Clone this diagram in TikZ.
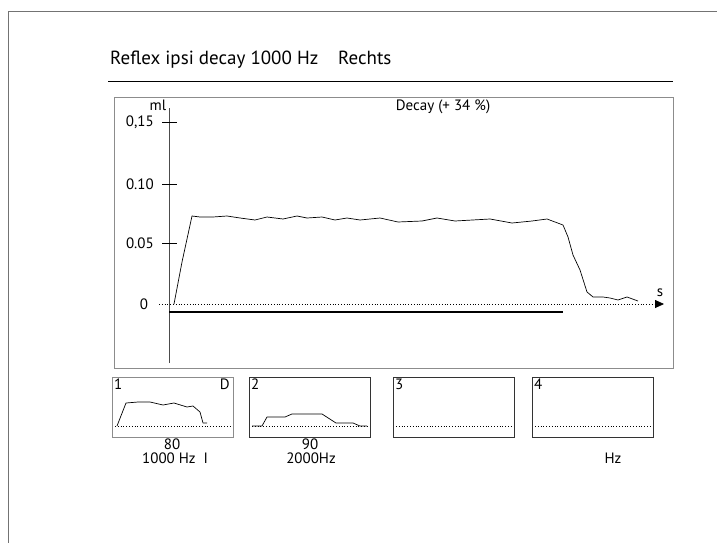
\documentclass[tikz,border=0pt]{standalone}
\usepackage{fontspec}
\setmainfont{PT Sans}
\usetikzlibrary{arrows.meta}
\usetikzlibrary{positioning}
\tikzset {
  % lines of the sheet and the boxes
  page line/.style = {
    draw = black!55,
    line width = 1pt
  },
  plot box/.style = {
    draw = black!45,
    line width = 1pt
  },
  rule line/.style = {
    draw = black,
    line width = 1pt
  },
  axis line/.style = {
    draw = black!70,
    line width = 1pt
  },
  % measured curves
  trace/.style = {
    draw = black,
    line width = .7pt,
    line join = round
  },
  zero line/.style = {
    draw = black,
    line width = .8pt,
    dotted
  },
  stim bar/.style = {
    draw = black,
    line width = 2.3pt
  }
}
\tikzset {
  title text/.style = {
    font = \fontsize{19}{19}\selectfont,
    inner sep = 0,
    anchor = base west
  },
  tick text/.style = {
    font = \fontsize{15}{15}\selectfont,
    inner sep = 0
  },
  small text/.style = {
    font = \fontsize{15}{15}\selectfont,
    inner sep = 0
  }
}
\begin{document}
\begin{tikzpicture}[x=1pt, y=-1pt]
    \useasboundingbox (0,0) rectangle (717,543);
    \draw[page line] (8,543) -- (8,12) -- (717,12);

    \node[title text] (title) at (110,65) {Reflex ipsi decay 1000 Hz};
    \node[title text] (side) at (338,65) {Rechts};
    \coordinate (rule-w) at (108,81);
    \coordinate (rule-e) at (673,81);
    \draw[rule line] (rule-w) -- (rule-e);

    % main decay plot
    \draw[plot box] (114,97) rectangle (673,368);
    \coordinate (y-top) at (169,108);
    \coordinate (y-bot) at (169,363);
    \draw[axis line] (y-bot) -- (y-top);
    \foreach \lab/\ypos in {{0,15}/122, 0.10/184, 0.05/243} {
      \draw[rule line] (162,\ypos) -- (177,\ypos);
      \node[tick text, anchor=east] (tick-\ypos) at (154,\ypos) {\lab};
    }
    \node[tick text] (tick-zero) at (144,304) {0};
    \node[small text, anchor=base] (unit-y) at (158,110) {ml};
    \node[small text, anchor=base] (decay) at (443,110) {Decay (+ 34 \%)};
    \node[small text, anchor=base] (unit-x) at (660,296) {s};

    \coordinate (x-start) at (159,304);
    \coordinate (x-end) at (664,304);
    \draw[zero line, -{Triangle[length=9pt, width=8pt]}] (x-start) -- (x-end);
    \coordinate (bar-w) at (169,312);
    \coordinate (bar-e) at (563,312);
    \draw[stim bar] (bar-w) -- (bar-e);

    \draw[trace] plot coordinates {
      (174,304) (182,262) (192,216) (200,217) (213,217) (227,216) (240,218)
      (255,220) (267,217) (283,219) (297,216) (307,218) (322,217) (335,220)
      (347,218) (360,220) (380,218) (398,222) (422,221) (437,218) (455,221)
      (490,219) (512,223) (532,221) (547,219) (563,225) (568,237) (573,255)
      (580,270) (587,292) (593,297) (603,297) (610,298) (618,300) (627,297)
      (638,301)
    };

    % the four small plots
    \foreach \num/\xl/\col in {1/112/black!45, 2/249/black!80, 3/393/black!80, 4/532/black!80} {
      \draw[draw=\col, line width=1pt] (\xl,377) rectangle ++(121,60);
      \node[small text, anchor=north west] (num-\num) at (\xl+2,379) {\num};
      \draw[zero line] (\xl+3,426) -- ++(115,0);
    }
    \node[small text, anchor=north east] (mark-d) at (230,379) {D};

    \draw[trace] plot coordinates {
      (117,426) (126,403) (138,402) (150,402) (163,405) (174,403) (187,407)
      (193,406) (200,412) (203,423) (207,423)
    };
    \draw[trace] plot coordinates {
      (252,426) (262,426) (267,417) (285,417) (292,414) (322,414) (336,423)
      (353,423) (360,426) (367,426)
    };

    \node[small text, anchor=base] (level-1) at (172,449) {80};
    \node[small text, anchor=base west] (freq-1) at (142,463) {1000 Hz\hspace{8pt}I};
    \node[small text, anchor=base] (level-2) at (310,449) {90};
    \node[small text, anchor=base] (freq-2) at (311,463) {2000Hz};
    \node[small text, anchor=base] (freq-4) at (613,463) {Hz};
\end{tikzpicture}
\end{document}
